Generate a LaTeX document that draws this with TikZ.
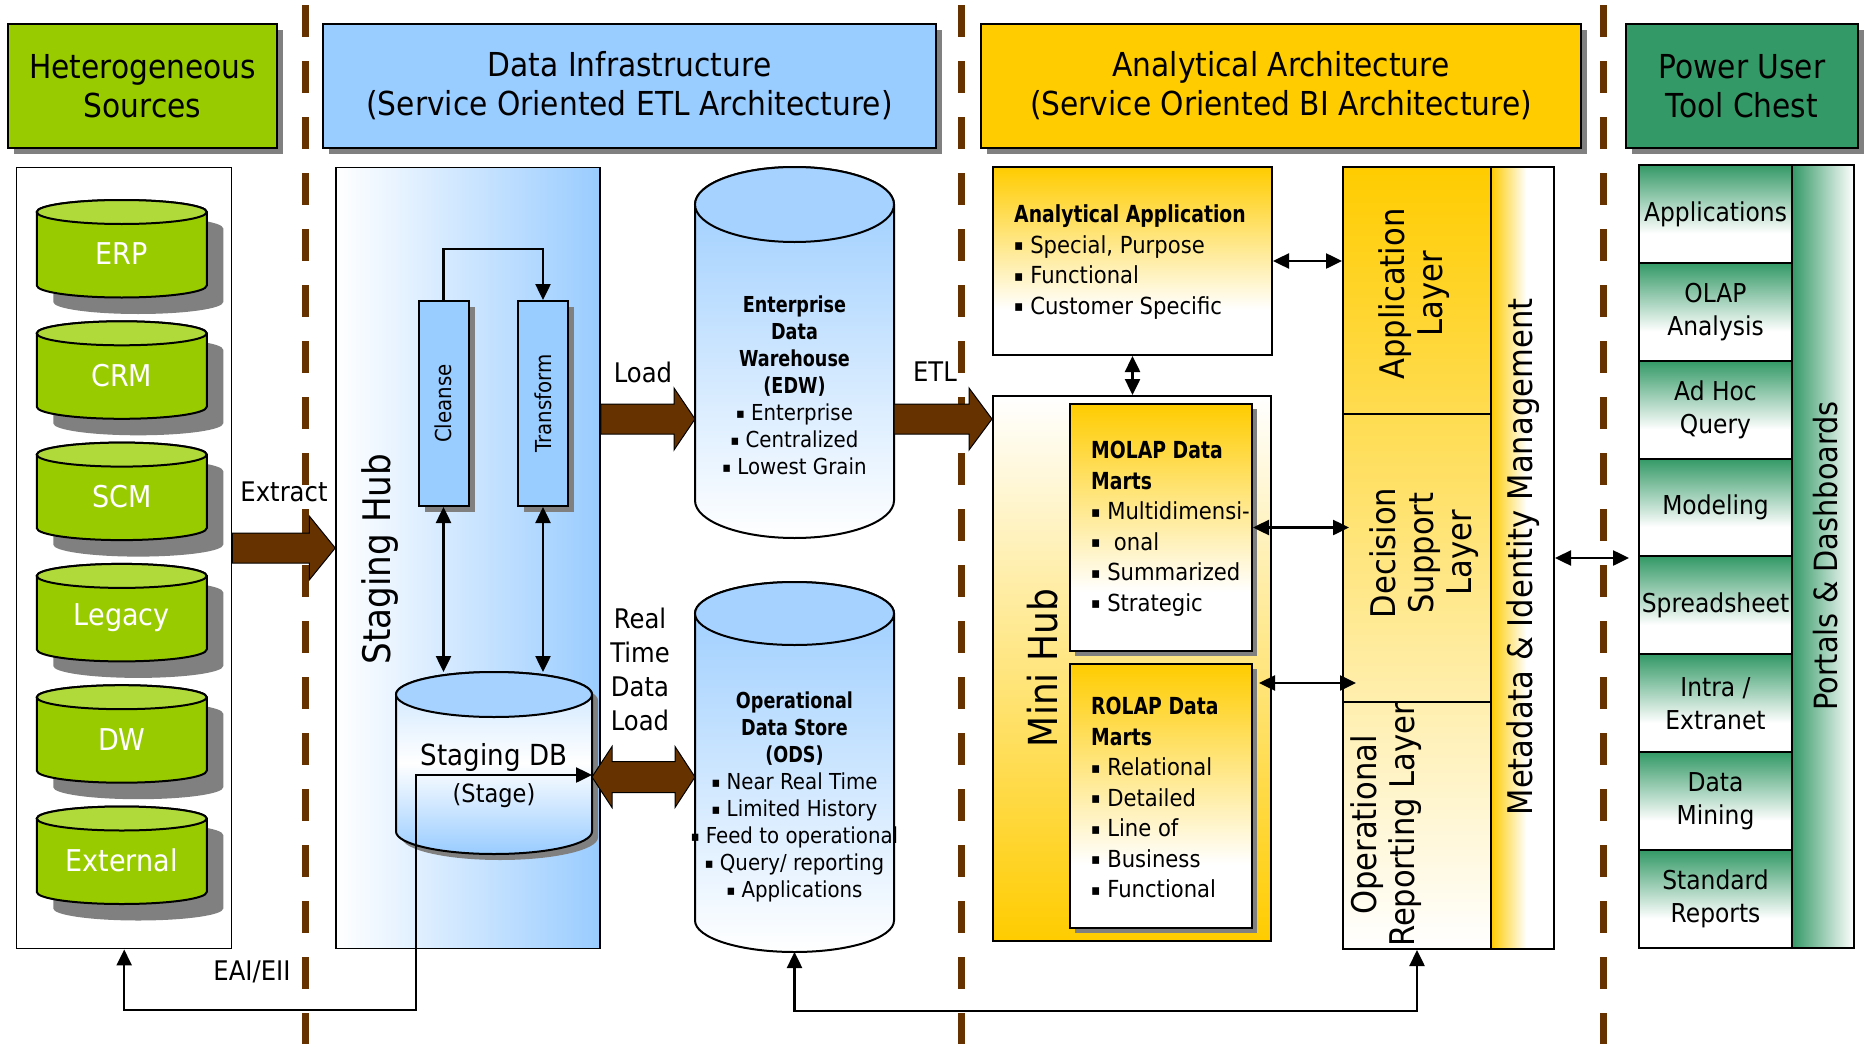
\documentclass[tikz,border=0pt]{standalone}
\usepackage{fontspec}
\usepackage{graphicx}
\setmainfont{DejaVu Sans}[FakeStretch=0.9,BoldFeatures={FakeStretch=0.8}]
\usetikzlibrary{arrows.meta,shadows,calc}

\definecolor{srcgreen}{RGB}{153,204,0}
\definecolor{srctop}{RGB}{176,217,58}
\definecolor{infblue}{RGB}{153,204,255}
\definecolor{cyltop}{RGB}{166,210,255}
\definecolor{bizyel}{RGB}{255,204,0}
\definecolor{dbrown}{RGB}{102,51,0}
\definecolor{toolgreen}{RGB}{51,153,102}
\definecolor{shgray}{RGB}{128,128,128}

\pgfdeclareverticalshading{yfade}{100bp}{color(0bp)=(white); color(37bp)=(white); color(75bp)=(bizyel); color(100bp)=(bizyel)}
\pgfdeclareverticalshading{gfade}{100bp}{color(0bp)=(white); color(40bp)=(white); color(75bp)=(toolgreen); color(100bp)=(toolgreen)}
\pgfdeclarehorizontalshading{yside}{100bp}{color(0bp)=(bizyel); color(25bp)=(bizyel); color(53bp)=(white); color(100bp)=(white)}

\newcommand\bul{\raisebox{0.1em}{\scalebox{0.65}{▪}}}

% cylinder: cx, ytop, rx, h, ry, body style, top fill, shadow shift
\newcommand\dbcyl[8]{%
  \ifdim #8pt>0pt
    \fill[shgray] ({#1-#3+#8},{#2+#5+#8}) -- ({#1-#3+#8},{#2+#4-#5+#8})
      arc[start angle=180,end angle=360,x radius=#3pt,y radius=#5pt]
      -- ({#1+#3+#8},{#2+#5+#8})
      arc[start angle=0,end angle=180,x radius=#3pt,y radius=#5pt] -- cycle;
  \fi
  \path[#6,draw=black,line width=2pt] ({#1-#3},{#2+#5}) -- ({#1-#3},{#2+#4-#5})
      arc[start angle=180,end angle=360,x radius=#3pt,y radius=#5pt]
      -- ({#1+#3},{#2+#5})
      arc[start angle=0,end angle=180,x radius=#3pt,y radius=#5pt] -- cycle;
  \draw[line width=2pt,fill=#7] (#1,{#2+#5}) ellipse[x radius=#3pt,y radius=#5pt];
}
% block arrow: from, to, shaft half, head half, head length
\newcommand\blockR[5]{%
  \draw[blockarrow] let \p1=(#1), \p2=(#2) in
    ({\x1},{\y1+#3pt}) -- ({\x2-#5pt},{\y1+#3pt}) -- ({\x2-#5pt},{\y1+#4pt})
    -- ({\x2},{\y1}) -- ({\x2-#5pt},{\y1-#4pt}) -- ({\x2-#5pt},{\y1-#3pt})
    -- ({\x1},{\y1-#3pt}) -- cycle;}
\newcommand\blockLR[5]{%
  \draw[blockarrow] let \p1=(#1), \p2=(#2) in
    ({\x1},{\y1}) -- ({\x1+#5pt},{\y1+#4pt}) -- ({\x1+#5pt},{\y1+#3pt})
    -- ({\x2-#5pt},{\y1+#3pt}) -- ({\x2-#5pt},{\y1+#4pt}) -- ({\x2},{\y1})
    -- ({\x2-#5pt},{\y1-#4pt}) -- ({\x2-#5pt},{\y1-#3pt})
    -- ({\x1+#5pt},{\y1-#3pt}) -- ({\x1+#5pt},{\y1-#4pt}) -- cycle;}

\begin{document}
\begin{tikzpicture}[x=1pt,y=-1pt,
  >={Triangle[length=16pt,width=15pt]},
  myshadow/.style={drop shadow={shadow xshift=#1,shadow yshift=-#1,fill=shgray,opacity=1}},
  hdr/.style={draw,line width=2pt,align=center,inner sep=0pt,
    font=\fontsize{33}{39}\selectfont,myshadow=6pt,minimum height=124pt},
  panel/.style={draw,line width=1.5pt,inner sep=0pt},
  conn/.style={line width=2.5pt,draw=black},
  blockarrow/.style={fill=dbrown,draw=black,line width=1pt},
  sepline/.style={draw=dbrown,line width=7pt,dash pattern=on 32pt off 24pt},
  cyllab/.style={text=white,font=\fontsize{30}{32}\selectfont,inner sep=0pt},
  lbl/.style={font=\fontsize{27}{34}\selectfont,inner sep=0pt,align=center},
  stagebox/.style={draw,line width=2pt,fill=infblue,minimum width=50pt,
    minimum height=205pt,inner sep=0pt,myshadow=6pt},
  cyltxt/.style={align=center,font=\fontsize{22}{27}\selectfont,inner sep=0pt},
  mart/.style={draw,line width=2pt,shade,shading=yfade,minimum width=182pt,
    inner sep=0pt,myshadow=5pt},
  marttxt/.style={anchor=west,align=left,font=\fontsize{23.5}{30.5}\selectfont,inner sep=0pt},
  layer/.style={draw,line width=2pt,minimum width=148pt,inner sep=0pt},
  laytxt/.style={rotate=90,align=center,font=\fontsize{34}{38}\selectfont,inner sep=0pt},
  tool/.style={draw,line width=2pt,shade,shading=gfade,minimum width=153pt,
    minimum height=97.9pt,inner sep=0pt,align=center,font=\fontsize{26}{33}\selectfont}
]
\useasboundingbox (0,0) rectangle (1864,1044);
\fill[white] (0,0) rectangle (1864,1044);

% separators
\foreach \sx in {305.5,961.7,1603}{\draw[sepline] (\sx,5) -- (\sx,1044);}

% headers
\node[hdr,fill=srcgreen,minimum width=269pt] (h1) at (142.5,86) {Heterogeneous\\Sources};
\node[hdr,fill=infblue,minimum width=613pt] (h2) at (629.5,86) {Data Infrastructure\\(Service Oriented ETL Architecture)};
\node[hdr,fill=bizyel,minimum width=600pt] (h3) at (1281,86) {Analytical Architecture\\(Service Oriented BI Architecture)};
\node[hdr,fill=toolgreen,minimum width=232pt] (h4) at (1742,86) {Power User\\Tool Chest};

% sources
\node[panel,fill=white,minimum width=215pt,minimum height=781pt] (srcp) at (124.2,558.2) {};
\foreach \lab [count=\i from 0] in {ERP,CRM,SCM,Legacy,DW,External}{
  \pgfmathsetmacro\yt{200+121.3*\i}
  \dbcyl{121.75}{\yt}{85}{97.5}{12}{fill=srcgreen}{srctop}{16.5}
  \node[cyllab] (src\i) at (121.75,\yt+54) {\lab};
}

% staging hub
\node[panel,left color=white,right color=infblue,minimum width=264pt,minimum height=781pt] (hub) at (468,558.2) {};
\node[rotate=90,font=\fontsize{38}{40}\selectfont,inner sep=0pt] (hubtxt) at (380,559) {Staging Hub};
\node[stagebox] (cleanse) at (443.5,403.5) {};
\node[rotate=90,font=\fontsize{22}{24}\selectfont,inner sep=0pt] (cleansetxt) at (cleanse) {Cleanse};
\node[stagebox] (transform) at (543,403.5) {};
\node[rotate=90,font=\fontsize{22}{24}\selectfont,inner sep=0pt] (transformtxt) at (transform) {Transform};
\draw[conn,->] (cleanse.north) -- ++(0,-51) -| (transform.north);

% staging DB
\dbcyl{494}{672}{98}{182}{22.5}{top color=infblue!55,bottom color=infblue,middle color=white}{cyltop}{6}
\coordinate (sdb-top) at (494,672);
\coordinate (sdb-e) at (592,775);
\node[align=center,font=\fontsize{25}{37}\selectfont,inner sep=0pt] (sdb) at (494,776)
  {{\fontsize{29}{37}\selectfont Staging DB}\\(Stage)};
\draw[conn,<->] (cleanse.south) -- (cleanse.south |- sdb-top);
\draw[conn,<->] (transform.south) -- (transform.south |- sdb-top);

% EDW and ODS
\dbcyl{794.5}{167}{99.5}{371}{37.5}{top color=infblue,bottom color=white}{cyltop}{0}
\coordinate (edw-w) at (695,352.5);
\coordinate (edw-e) at (894,352.5);
\node[cyltxt] (edw) at (794.5,385) {\textbf{Enterprise}\\\textbf{Data}\\\textbf{Warehouse}\\\textbf{(EDW)}\\\bul{} Enterprise\\\bul{} Centralized\\\bul{} Lowest Grain};
\dbcyl{794.5}{582}{99.5}{370}{31.5}{top color=infblue,bottom color=white}{cyltop}{0}
\coordinate (ods-w) at (695,767);
\coordinate (ods-bot) at (794.5,952);
\node[cyltxt] (ods) at (794.5,797) {\textbf{Operational}\\\textbf{Data Store}\\\textbf{(ODS)}\\\bul{} Near Real Time\\\bul{} Limited History\\\bul{} Feed to operational\\\bul{} Query/ reporting\\\bul{} Applications};

% analytical architecture
\node[draw,line width=2pt,shade,shading=yfade,minimum width=279pt,minimum height=188pt,inner sep=0pt] (aa) at (1132.5,261) {};
\node[marttxt] (aatxt) at (1014,262) {\textbf{Analytical Application}\\\bul{} Special, Purpose\\\bul{} Functional\\\bul{} Customer Specific};
\node[draw,line width=2pt,top color=white,bottom color=bizyel,minimum width=278pt,minimum height=545pt,inner sep=0pt] (minihub) at (1132,668.5) {};
\node[rotate=90,font=\fontsize{40}{42}\selectfont,inner sep=0pt] (minihubtxt) at (1043,668) {Mini Hub};
\node[mart,minimum height=247pt] (molap) at (1161,527.5) {};
\node[marttxt] (molaptxt) at (1091,528.5) {\textbf{MOLAP Data}\\\textbf{Marts}\\\bul{} Multidimensi-\\\bul{}\ \ onal\\\bul{} Summarized\\\bul{} Strategic};
\node[mart,minimum height=264pt] (rolap) at (1161,796) {};
\node[marttxt] (rolaptxt) at (1091,797.5) {\textbf{ROLAP Data}\\\textbf{Marts}\\\bul{} Relational\\\bul{} Detailed\\\bul{} Line of\\\bul{} Business\\\bul{} Functional};

\node[top color=bizyel,bottom color=white,minimum width=148pt,minimum height=782pt,inner sep=0pt] (laycol) at (1417,558) {};
\node[layer,minimum height=247pt] (applayer) at (1417,290.5) {};
\node[layer,minimum height=288pt] (decision) at (1417,558) {};
\node[layer,minimum height=247pt] (oplayer) at (1417,825.5) {};
\node[laytxt] (applayertxt) at (1414,294) {Application\\Layer};
\node[laytxt] (decisiontxt) at (1424,553) {Decision\\Support\\Layer};
\node[laytxt] (oplayertxt) at (1386,825) {Operational\\Reporting Layer};
\node[draw,line width=2pt,shade,shading=yside,minimum width=63pt,minimum height=782pt,inner sep=0pt] (meta) at (1522.5,558) {};
\node[rotate=90,font=\fontsize{34}{36}\selectfont,inner sep=0pt] (metatxt) at (1523,557) {Metadata \& Identity Management};

% power user tools
\node[draw,line width=2pt,left color=toolgreen,right color=white,minimum width=62pt,minimum height=783pt,inner sep=0pt] (portals) at (1823,556.5) {};
\node[rotate=90,font=\fontsize{32}{34}\selectfont,inner sep=0pt] (portalstxt) at (1826,556) {Portals \& Dashboards};
\foreach \t [count=\i] in {Applications,OLAP\\Analysis,Ad Hoc\\Query,Modeling,Spreadsheet,Intra /\\Extranet,Data\\Mining,Standard\\Reports}{
  \node[tool] (tool\i) at (1715.5,{165+97.875*(\i-0.5)}) {\t};
}

% block arrows
\coordinate (yLoad) at (0,419);
\coordinate (yExt) at (0,548);
\coordinate (yRT) at (0,777);
\blockR{srcp.east |- yExt}{hub.west |- yExt}{15}{32}{26}
\blockR{hub.east |- yLoad}{edw-w |- yLoad}{15}{31}{21}
\blockR{edw-e |- yLoad}{minihub.west |- yLoad}{15}{31}{23}
\blockLR{sdb-e |- yRT}{ods-w |- yRT}{15.5}{30.5}{20}

% labels
\node[lbl] (extractlbl) at (284,492) {Extract};
\node[lbl] (loadlbl) at (643,372) {Load};
\node[lbl] (etllbl) at (935,372) {ETL};
\node[lbl] (rtlbl) at (640,669) {Real\\Time\\Data\\Load};
\node[lbl] (eailbl) at (252,972) {EAI/EII};

% connectors
\coordinate (eaiknee) at (416,1010);
\draw[conn,<->] (srcp.south) |- (eaiknee) |- (sdb-e);
\coordinate (odsknee) at (794.5,1011);
\draw[conn,<->] (ods-bot) -- (odsknee) -| (oplayer.south);
\draw[conn,<->] (aa.east) -- (aa.east -| applayer.west);
\draw[conn,<->] (aa.south) -- (aa.south |- minihub.north);
\draw[conn,<->] (molap.east) -- ($(molap.east -| decision.west)+(7,0)$);
\draw[conn,<->] ($(rolap.north east)+(6,20)$) -- ($(decision.west |- rolap.north east)+(14,20)$);
\draw[conn,<->] (meta.east) -- ($(tool1.west |- meta.east)+(-9,0)$);
\end{tikzpicture}
\end{document}
